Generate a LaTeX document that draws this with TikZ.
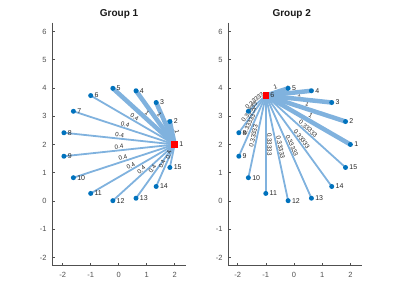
\documentclass[tikz,border=0pt]{standalone}
\usepackage{fontspec}
\setmainfont{Liberation Sans}
\definecolor{NodeBlue}{RGB}{0,114,189}
\definecolor{EdgeBlue}{RGB}{128,178,222}
\definecolor{AxisGray}{RGB}{80,80,80}
\usetikzlibrary{backgrounds}
\tikzset{
  dot/.style={circle,fill=NodeBlue,inner sep=0pt,minimum size=5pt},
  hub/.style={rectangle,fill=red,inner sep=0pt,minimum size=6.5pt},
  nlabel/.style={font=\fontsize{7}{8}\selectfont,text=black!85,inner sep=1pt,label distance=0pt},
  elabel/.style={font=\fontsize{6.2}{7}\selectfont,text=black!85,sloped,above,inner sep=0.6pt},
  heavy/.style={EdgeBlue,line width=4.5pt},
  light/.style={EdgeBlue,line width=1.8pt},
  axisline/.style={AxisGray,line width=0.6pt},
  ticklabel/.style={font=\fontsize{7.5}{9}\selectfont,text=AxisGray,inner sep=1pt},
  plottitle/.style={font=\bfseries\fontsize{10}{12}\selectfont,text=black!90}
}
\begin{document}
\begin{tikzpicture}[x=1pt,y=1pt]
  \useasboundingbox (0,0) rectangle (399,299);
  \begin{scope}[shift={(118.7pt,98pt)},x=28pt,y=28.25pt]
    \draw[axisline] (-2.37,6.31) -- (-2.37,-2.29) -- (2.40,-2.29);
    \foreach \x [count=\k] in {-2,...,2} {
      \draw[axisline] (\x,-2.29) -- ++(0,2.5pt);
      \node[ticklabel,below=5.5pt] (g1x\k) at (\x,-2.29) {\x};
    }
    \foreach \y [count=\k] in {-2,...,6} {
      \draw[axisline] (-2.37,\y) -- ++(2.5pt,0);
      \node[ticklabel,left=4.5pt] (g1y\k) at (-2.37,\y) {\y};
    }
    \node[plottitle] (g1title) at (0.015,6.6) {Group 1};
    \node[hub,label={[nlabel]right:1}] (g1n1) at (2,2) {};
    \foreach \i in {2,...,15}
      \node[dot,label={[nlabel]right:\i}] (g1n\i) at ({2*cos(24*(\i-1))},{2+2*sin(24*(\i-1))}) {};
    \begin{pgfonlayer}{background}
      \foreach \i in {2,...,5}
        \draw[heavy] (g1n1.center) -- node[elabel] {1} (g1n\i.center);
      \foreach \i in {6,...,15}
        \draw[light] (g1n1.center) -- node[elabel] {0.4} (g1n\i.center);
    \end{pgfonlayer}
  \end{scope}
  \begin{scope}[shift={(294pt,98pt)},x=28.2pt,y=28.25pt]
    \draw[axisline] (-2.33,6.31) -- (-2.33,-2.29) -- (2.40,-2.29);
    \foreach \x [count=\k] in {-2,...,2} {
      \draw[axisline] (\x,-2.29) -- ++(0,2.5pt);
      \node[ticklabel,below=5.5pt] (g2x\k) at (\x,-2.29) {\x};
    }
    \foreach \y [count=\k] in {-2,...,6} {
      \draw[axisline] (-2.33,\y) -- ++(2.5pt,0);
      \node[ticklabel,left=4.5pt] (g2y\k) at (-2.33,\y) {\y};
    }
    \node[plottitle] (g2title) at (-0.08,6.6) {Group 2};
    \node[hub,label={[nlabel]right:6}] (g2n6) at ({2*cos(120)},{2+2*sin(120)}) {};
    \foreach \i in {1,...,5,7,8,...,15}
      \node[dot,label={[nlabel]right:\i}] (g2n\i) at ({2*cos(24*(\i-1))},{2+2*sin(24*(\i-1))}) {};
    \begin{pgfonlayer}{background}
      \foreach \i in {1,...,5}
        \draw[heavy] (g2n6.center) -- node[elabel] {1} (g2n\i.center);
      \foreach \i in {7,...,15}
        \draw[light] (g2n6.center) -- node[elabel] {0.33333} (g2n\i.center);
    \end{pgfonlayer}
  \end{scope}
\end{tikzpicture}
\end{document}
